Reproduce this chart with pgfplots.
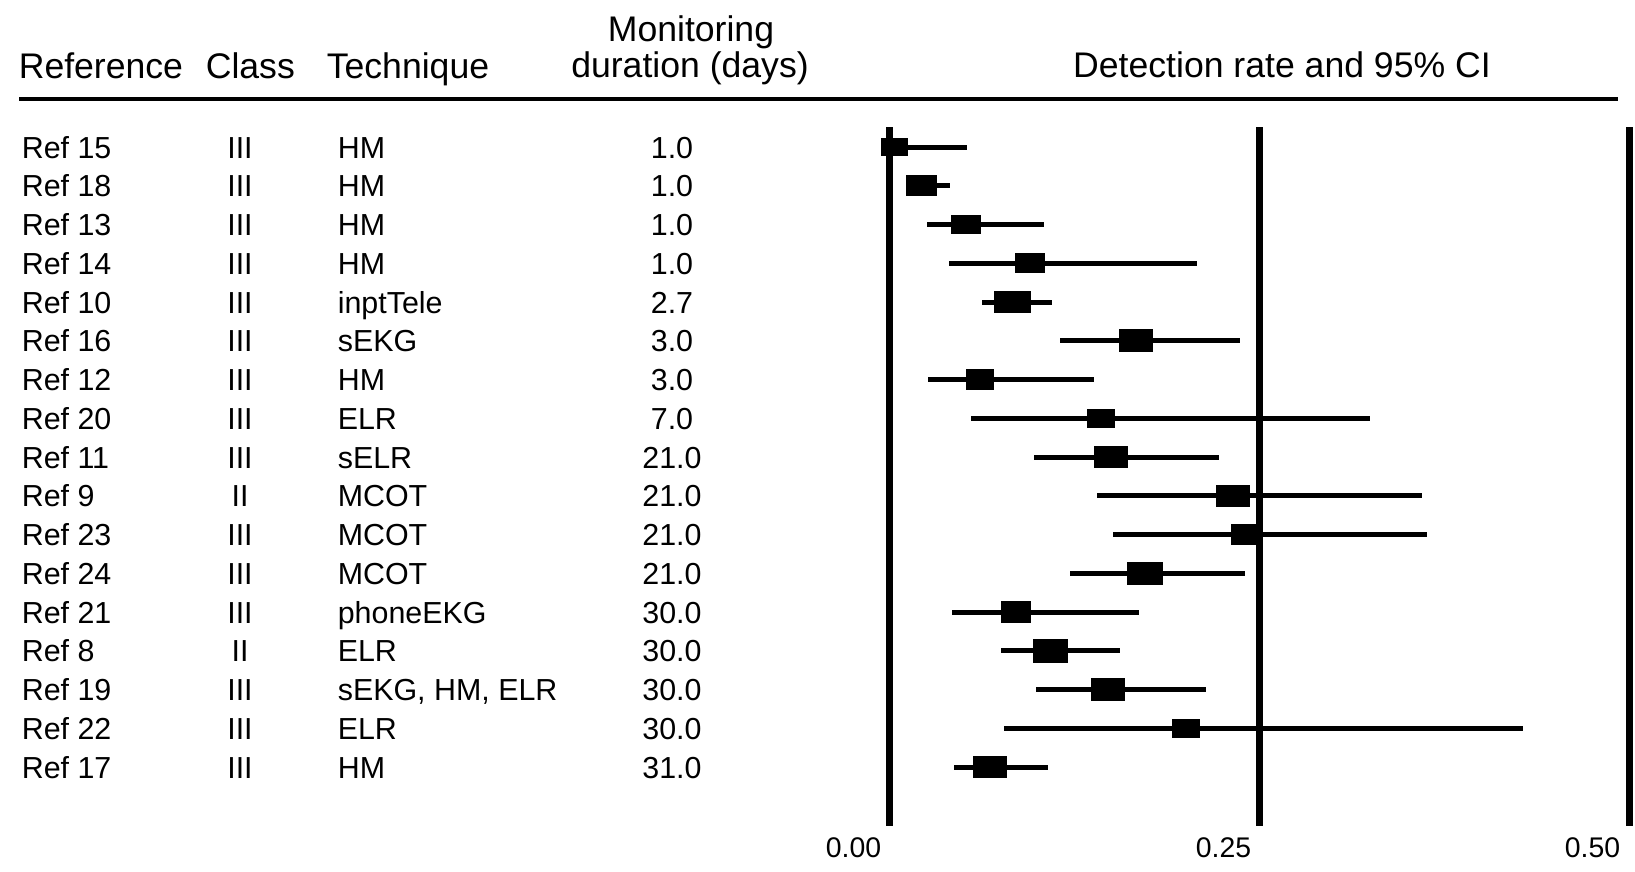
\documentclass[border=0pt]{standalone}
\usepackage{fontspec}
\setmainfont{Liberation Sans}
\usepackage{pgfplots}
\usepackage{pgfplotstable}
\pgfplotsset{compat=1.18}

% one picture pixel = 0.25pt ; reference is 1635 x 871 px
\newcommand\rowfont{\fontsize{7.6}{9}\selectfont}
\newcommand\headfont{\fontsize{8.9}{10.5}\selectfont}

\pgfplotstableread[col sep=semicolon]{
row;ref;cls;tech;dur;est;lo;hi;w;h
1;Ref 15;III;HM;1.0;0.0034;0.0000;0.0524;25;16
2;Ref 18;III;HM;1.0;0.0215;0.0120;0.0406;30;19
3;Ref 13;III;HM;1.0;0.0517;0.0253;0.1045;29;18
4;Ref 14;III;HM;1.0;0.0948;0.0403;0.2076;28;18
5;Ref 10;III;inptTele;2.7;0.0830;0.0622;0.1100;35;21
6;Ref 16;III;sEKG;3.0;0.1667;0.1150;0.2370;33;21
7;Ref 12;III;HM;3.0;0.0611;0.0260;0.1385;27;19
8;Ref 20;III;ELR;7.0;0.1430;0.0552;0.3247;26;17
9;Ref 11;III;sELR;21.0;0.1497;0.0979;0.2229;32;20
10;Ref 9;II;MCOT;21.0;0.2323;0.1406;0.3600;32;20
11;Ref 23;III;MCOT;21.0;0.2406;0.1514;0.3635;28;20
12;Ref 24;III;MCOT;21.0;0.1729;0.1219;0.2406;34;21
13;Ref 21;III;phoneEKG;30.0;0.0854;0.0420;0.1688;29;20
14;Ref 8;II;ELR;30.0;0.1087;0.0753;0.1556;33;22
15;Ref 19;III;sEKG, HM, ELR;30.0;0.1476;0.0993;0.2139;33;21
16;Ref 22;III;ELR;30.0;0.2003;0.0774;0.4280;26;17
17;Ref 17;III;HM;31.0;0.0680;0.0438;0.1073;33;21
}\forest

\begin{document}
\begin{tikzpicture}
\begin{axis}[
  scale only axis, width=408.75pt, height=217.75pt,
  xmin=-0.60142, xmax=0.50406,
  ymin=-2.7935, ymax=19.684, y dir=reverse,
  hide axis, clip=false,
  textcol/.style={draw=none, mark=none, nodes near coords,
    point meta=explicit symbolic,
    nodes near coords style={inner sep=0pt, yshift=-2.75pt,
      font=\rowfont, text=black, anchor=#1}},
]
% reference lines at 0, 0.25, 0.50
\addplot[black, line width=1.75pt, forget plot] coordinates {(0,0.484) (0,18.523)};
\addplot[black, line width=1.75pt, forget plot] coordinates {(0.25,0.484) (0.25,18.523)};
\addplot[black, line width=1.75pt, forget plot] coordinates {(0.5,0.484) (0.5,18.523)};

% confidence intervals
\addplot[only marks, mark=none,
  error bars/.cd, x dir=both, x explicit, error mark=none,
  error bar style={draw=black, line width=1.25pt}]
  table[x=est, y=row,
    x error minus expr=\thisrow{est}-\thisrow{lo},
    x error plus expr=\thisrow{hi}-\thisrow{est}] {\forest};

% point estimates, box size by weight
\addplot[scatter, only marks, mark=square*,
  scatter/use mapped color={draw=black, fill=black},
  visualization depends on={\thisrow{h} \as \hh},
  visualization depends on={\thisrow{w}/\thisrow{h} \as \rr},
  scatter/@pre marker code/.append style={/tikz/mark size=0.125pt*\hh, /tikz/xscale=\rr, /tikz/line width=0pt}]
  table[x=est, y=row] {\forest};

% text columns
\addplot[textcol=base west] table[x expr=-0.58722, y=row, meta=ref] {\forest};
\addplot[textcol=base] table[x expr=-0.43915, y=row, meta=cls] {\forest};
\addplot[textcol=base west] table[x expr=-0.37356, y=row, meta=tech] {\forest};
\addplot[textcol=base] table[x expr=-0.14706, y=row, meta=dur] {\forest};
\end{axis}

\begin{scope}[x=0.25pt, y=-0.25pt, shift={(0pt,217.75pt)}]
  \node[anchor=base west, inner sep=0pt, font=\headfont] at (18,78) {Reference};
  \node[anchor=base west, inner sep=0pt, font=\headfont] at (205,78) {Class};
  \node[anchor=base west, inner sep=0pt, font=\headfont] at (326,78) {Technique};
  \node[anchor=base, inner sep=0pt, font=\headfont] at (691,41) {Monitoring};
  \node[anchor=base, inner sep=0pt, font=\headfont] at (690,77) {duration (days)};
  \node[anchor=base, inner sep=0pt, font=\headfont] at (1282,77) {Detection rate and 95\% CI};
  \draw[line width=1.15pt] (19,99) -- (1618,99);
  \node[anchor=base east, inner sep=0pt, font=\fontsize{7.1}{8}\selectfont] at (882,857) {0.00};
  \node[anchor=base east, inner sep=0pt, font=\fontsize{7.1}{8}\selectfont] at (1252,857) {0.25};
  \node[anchor=base east, inner sep=0pt, font=\fontsize{7.1}{8}\selectfont] at (1621,857) {0.50};
\end{scope}
\pgfresetboundingbox
\useasboundingbox (0,0) rectangle (408.75pt,217.75pt);
\end{tikzpicture}
\end{document}
